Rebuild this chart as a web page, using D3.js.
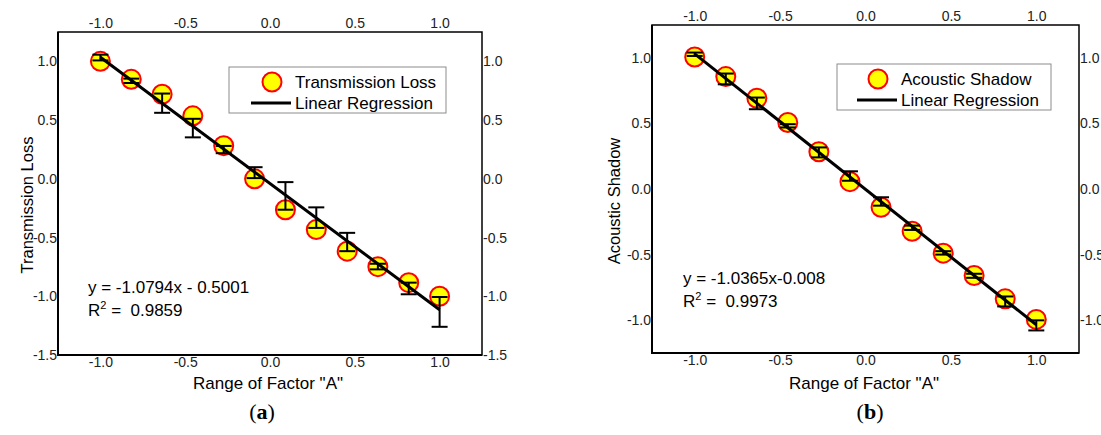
<!DOCTYPE html>
<html lang="en">
<head>
    <meta charset="UTF-8">
    <title>Transmission Loss / Acoustic Shadow</title>
    <script src="https://d3js.org/d3.v7.min.js"></script>
    <style>
        body { margin: 0; background: #fff; }
        text { font-family: "Liberation Sans", Arial, sans-serif; fill: #000; }
        .tick text { font-size: 14px; fill: #222; }
        .frame { fill: none; stroke: #000; }
    </style>
</head>
<body>
    <svg width="1101" height="435"></svg>
    <script>
        // x positions of the 12 runs (range of factor "A")
        const factorA = [-1.0, -0.818, -0.636, -0.455, -0.273, -0.091, 0.091, 0.273, 0.455, 0.636, 0.818, 1.0];
        const xTicks = [-1.0, -0.5, 0.0, 0.5, 1.0];

        // panel (a) transmission loss
        const tlValue = [1.0, 0.847, 0.72, 0.536, 0.282, 0.0, -0.263, -0.432, -0.616, -0.748, -0.884, -1.0];
        const tlLow   = [1.008, 0.816, 0.562, 0.353, 0.218, 0.006, -0.263, -0.418, -0.616, -0.771, -0.983, -1.26];
        const tlHigh  = [1.057, 0.853, 0.726, 0.511, 0.28, 0.099, -0.028, -0.243, -0.46, -0.723, -0.884, -1.006];
        const tlFit   = [1.035, -1.115];   // regression line at x = -1 and x = 1
        const tlTicks = [1.0, 0.5, 0.0, -0.5, -1.0, -1.5];

        // panel (b) acoustic shadow
        const asValue = [1.006, 0.857, 0.692, 0.507, 0.284, 0.056, -0.139, -0.322, -0.489, -0.659, -0.837, -0.994];
        const asLow   = [1.014, 0.798, 0.608, 0.469, 0.241, 0.063, -0.127, -0.312, -0.5, -0.677, -0.895, -1.078];
        const asHigh  = [1.04, 0.88, 0.697, 0.494, 0.317, 0.135, -0.063, -0.279, -0.474, -0.646, -0.819, -1.001];
        const asFit   = [1.03, -1.035];
        const asTicks = [1.0, 0.5, 0.0, -0.5, -1.0];

        const svg = d3.select("svg");
        const fmt = d => d.toFixed(1);

        function drawPanel(p) {
            const x = d3.scaleLinear().domain([-1.25, 1.25]).range([p.left, p.right]);
            const y = d3.scaleLinear().domain(p.yDomain).range([p.bottom, p.top]);
            const g = svg.append("g");

            // axes, no tick marks, labels hugging the frame
            g.append("g").attr("transform", `translate(0,${p.bottom})`)
                .call(d3.axisBottom(x).tickValues(xTicks).tickSize(0).tickPadding(2).tickFormat(fmt));
            g.append("g").attr("transform", `translate(0,${p.top})`)
                .call(d3.axisTop(x).tickValues(xTicks).tickSize(0).tickPadding(4).tickFormat(fmt));
            g.append("g").attr("transform", `translate(${p.left},0)`)
                .call(d3.axisLeft(y).tickValues(p.yTicks).tickSize(0).tickPadding(1).tickFormat(fmt));
            g.append("g").attr("transform", `translate(${p.right},0)`)
                .call(d3.axisRight(y).tickValues(p.yTicks).tickSize(0).tickPadding(1).tickFormat(fmt));
            g.selectAll(".domain").remove();

            // frame
            g.append("path").attr("class", "frame").attr("stroke-width", 1.5)
                .attr("d", `M${p.left},${p.bottom}V${p.top}H${p.right}V${p.bottom}Z`);
            g.append("path").attr("class", "frame").attr("stroke-width", 2)
                .attr("d", `M${p.left},${p.top}V${p.bottom}H${p.right}`);

            const pts = factorA.map((fx, i) => ({ x: fx, v: p.value[i], lo: p.low[i], hi: p.high[i] }));

            g.append("g").selectAll("circle").data(pts).join("circle")
                .attr("cx", d => x(d.x)).attr("cy", d => y(d.v)).attr("r", 9.5)
                .attr("fill", "#ffff00").attr("stroke", "#ff0000").attr("stroke-width", 2);

            g.append("line")
                .attr("x1", x(-1)).attr("y1", y(p.fit[0]))
                .attr("x2", x(1)).attr("y2", y(p.fit[1]))
                .attr("stroke", "#000").attr("stroke-width", 3);

            const err = g.append("g").attr("stroke", "#000").attr("stroke-width", 2);
            err.selectAll(".bar").data(pts).join("line")
                .attr("x1", d => x(d.x)).attr("x2", d => x(d.x))
                .attr("y1", d => y(d.lo)).attr("y2", d => y(d.hi));
            err.selectAll(".capLo").data(pts).join("line")
                .attr("x1", d => x(d.x) - 8).attr("x2", d => x(d.x) + 8)
                .attr("y1", d => y(d.lo)).attr("y2", d => y(d.lo));
            err.selectAll(".capHi").data(pts).join("line")
                .attr("x1", d => x(d.x) - 8).attr("x2", d => x(d.x) + 8)
                .attr("y1", d => y(d.hi)).attr("y2", d => y(d.hi));

            // legend
            const lg = g.append("g").attr("transform", `translate(${p.legend[0]},${p.legend[1]})`);
            lg.append("rect").attr("width", p.legend[2]).attr("height", 46)
                .attr("fill", "#fff").attr("stroke", "#8c8c8c").attr("stroke-width", 1);
            lg.append("circle").attr("cx", p.legend[3]).attr("cy", 15).attr("r", 9.5)
                .attr("fill", "#ffff00").attr("stroke", "#ff0000").attr("stroke-width", 2);
            lg.append("line").attr("x1", p.legend[3] - 21).attr("x2", p.legend[3] + 19)
                .attr("y1", 36).attr("y2", 36).attr("stroke", "#000").attr("stroke-width", 3);
            lg.append("text").attr("x", p.legend[3] + 23).attr("y", 21).style("font-size", "17px").text(p.name);
            lg.append("text").attr("x", p.legend[3] + 23).attr("y", 41.5).style("font-size", "17px").text("Linear Regression");

            // regression equation
            g.append("text").attr("x", p.eq[0]).attr("y", p.eq[1]).style("font-size", "17px").text(p.eqText);
            const r2 = g.append("text").attr("x", p.eq[0]).attr("y", p.eq[1] + 23)
                .style("font-size", "17px").style("white-space", "pre");
            r2.append("tspan").text("R");
            r2.append("tspan").attr("dy", -7).style("font-size", "11px").text("2");
            r2.append("tspan").attr("dy", 7).text(" =  " + p.r2);

            // axis titles
            g.append("text").attr("transform", `translate(${p.yTitle[0]},${p.yTitle[1]}) rotate(-90)`)
                .attr("text-anchor", "middle").style("font-size", "16.5px").text(p.name);
            g.append("text").attr("x", p.xTitle).attr("y", 389).attr("text-anchor", "middle")
                .style("font-size", "17px").text('Range of Factor "A"');
            const tag = g.append("text").attr("x", p.tag).attr("y", 419).attr("text-anchor", "middle")
                .style("font-family", '"Liberation Serif", "Times New Roman", serif').style("font-size", "22px");
            tag.append("tspan").text("(");
            tag.append("tspan").style("font-weight", "bold").text(p.letter);
            tag.append("tspan").text(")");
        }

        drawPanel({
            left: 58, right: 482, top: 32, bottom: 355, yDomain: [-1.5, 1.25], yTicks: tlTicks,
            value: tlValue, low: tlLow, high: tlHigh, fit: tlFit,
            name: "Transmission Loss", legend: [229, 67, 217, 43],
            eq: [88, 293], eqText: "y = -1.0794x - 0.5001", r2: "0.9859",
            yTitle: [33, 205], xTitle: 268, tag: 262, letter: "a"
        });

        drawPanel({
            left: 652, right: 1079, top: 25, bottom: 353, yDomain: [-1.25, 1.25], yTicks: asTicks,
            value: asValue, low: asLow, high: asHigh, fit: asFit,
            name: "Acoustic Shadow", legend: [837, 64, 214, 41],
            eq: [683, 284], eqText: "y = -1.0365x-0.008", r2: "0.9973",
            yTitle: [620, 201], xTitle: 864, tag: 870, letter: "b"
        });
    </script>
</body>
</html>
